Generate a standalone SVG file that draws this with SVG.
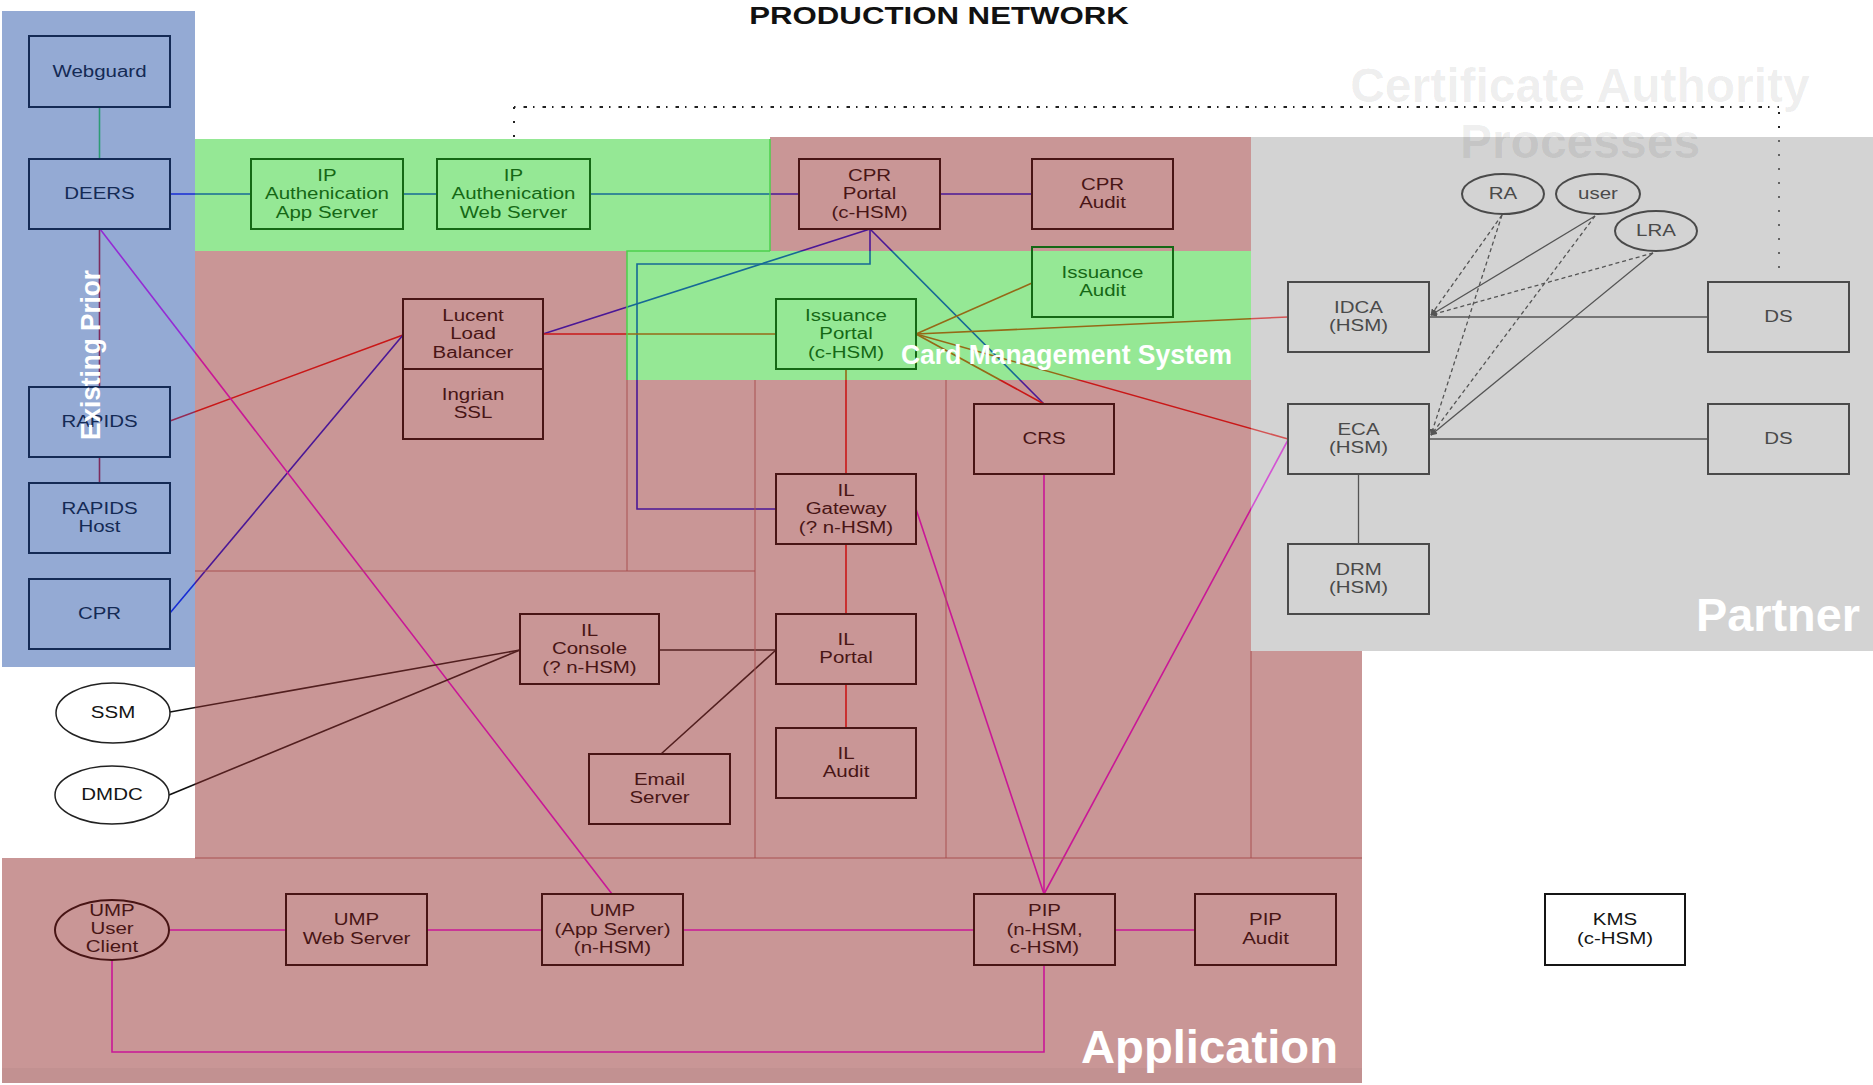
<svg xmlns="http://www.w3.org/2000/svg" width="1873" height="1085" viewBox="0 0 1873 1085">
<defs>
<style>
.c{fill:none;stroke-width:1.6}
.cb{stroke:#0000FF}
.cr{stroke:#FF0000}
.cm{stroke:#FF00FF}
.ck{stroke:#111111}
.cg{stroke:#000000;stroke-width:1.3}
.dash{stroke-dasharray:4 3}
.nb{fill:none;stroke-width:2}
.t{font-family:"Liberation Sans",Arial,Helvetica,sans-serif;font-size:16px;text-anchor:middle}
.sb{stroke:#142A55}.fb{fill:#142A55}
.sg{stroke:#156815}.fg{fill:#156815}
.sp{stroke:#481515}.fp{fill:#481515}
.sy{stroke:#4A4A4A}.fy{fill:#4A4A4A}
.sk{stroke:#151515}.fk{fill:#151515}
.lbl{font-family:"Liberation Sans",Arial,Helvetica,sans-serif;font-weight:bold;fill:#FFFFFF}
.div{fill:none;stroke:#A85050;stroke-width:1}
</style>
<marker id="ah" viewBox="0 0 10 10" refX="9" refY="5" markerWidth="5" markerHeight="5" orient="auto"><path d="M0,0 L10,5 L0,10 z" fill="#000"/></marker>
</defs>
<rect x="0" y="0" width="1873" height="1085" fill="#FFFFFF"/>

<g id="frame" fill="none" stroke="#222">
<path d="M514,107 H1779" stroke-width="2" stroke-dasharray="1.5 8 3.5 6"/>
<path d="M514,107 V146" stroke-width="2" stroke-dasharray="2 12"/>
<path d="M1779,112 V268" stroke-width="2" stroke-dasharray="2 12"/>
</g>

<g id="connectors">
<path class="c" stroke="#30E040" stroke-width="2.5" d="M99.5,107 V159"/>
<path class="c cb" d="M170,194 H251"/>
<path class="c cb" d="M403,194 H437"/>
<path class="c cb" d="M590,194 H799"/>
<path class="c cb" d="M940,194 H1032"/>
<path class="c cb" d="M870,229 L543,334"/>
<path class="c cb" d="M870,229 V264 H637 V509 H776"/>
<path class="c cb" d="M870,229 L1044,404"/>
<path class="c cr" d="M403,335 L170,421"/>
<path class="c cb" d="M403,335 L170,613"/>
<path class="c cr" d="M543,334 H776"/>
<path class="c" stroke="#D00010" stroke-width="2" d="M99.5,229 V387"/>
<path class="c" stroke="#D00010" stroke-width="2" d="M99.5,457 V483"/>
<path class="c cm" d="M100,229 L612,894"/>
<path class="c ck" d="M520,650 L170,712"/>
<path class="c ck" d="M520,650 L169,795"/>
<path class="c ck" d="M659,650 H776"/>
<path class="c ck" d="M776,650 L661,754"/>
<path class="c cr" stroke-width="2" d="M846,369 V474"/>
<path class="c cr" stroke-width="2" d="M846,544 V614"/>
<path class="c cr" stroke-width="2" d="M846,684 V728"/>
<path class="c cr" d="M916,334 L1032,283"/>
<path class="c cr" d="M916,334 L1288,317"/>
<path class="c cr" d="M916,334 L1044,404"/>
<path class="c cr" d="M916,334 L1288,439"/>
<path class="c cm" d="M916,509 L1044,894"/>
<path class="c cm" stroke-width="2" d="M1044,474 V894"/>
<path class="c cm" d="M1288,440 L1044,894"/>
<path class="c cm" stroke-width="2" d="M169,930 H286"/>
<path class="c cm" stroke-width="2" d="M427,930 H542"/>
<path class="c cm" stroke-width="2" d="M683,930 H974"/>
<path class="c cm" stroke-width="2" d="M1115,930 H1195"/>
<path class="c cm" stroke-width="2" d="M112,960 V1052 H1044 V965"/>
<path class="c cg" stroke-width="2" d="M1429,317 H1708"/>
<path class="c cg" stroke-width="2" d="M1429,439 H1708"/>
<path class="c cg" stroke-width="2" d="M1358.5,474 V544"/>
<path class="c cg dash" marker-end="url(#ah)" d="M1502,215 L1431,315"/>
<path class="c cg" stroke-width="1" marker-end="url(#ah)" d="M1595,216 L1431,315"/>
<path class="c cg dash" marker-end="url(#ah)" d="M1653,253 L1431,315"/>
<path class="c cg dash" marker-end="url(#ah)" d="M1502,215 L1431,435"/>
<path class="c cg dash" marker-end="url(#ah)" d="M1595,216 L1431,435"/>
<path class="c cg" stroke-width="1" marker-end="url(#ah)" d="M1653,253 L1431,435"/>
</g>

<g id="regions">
<rect x="2" y="11" width="193" height="656" fill="#2955A9" fill-opacity="0.5"/>
<path fill="#932D2D" fill-opacity="0.5" d="M770,137 H1251 V251 H770 Z M195,251 H627 V380 H1251 V651 H1362 V1083 H2 V858 H195 Z"/>
<rect x="195" y="139" width="575" height="112" fill="#2BD12B" fill-opacity="0.5"/>
<rect x="627" y="251" width="624" height="129" fill="#2BD12B" fill-opacity="0.5"/>
<rect x="1251" y="137" width="622" height="514" fill="#A7A7A7" fill-opacity="0.5"/>
<rect x="2" y="1068" width="1360" height="15" fill="#000" fill-opacity="0.03"/>
<path fill="none" stroke="#4CD04C" stroke-width="1.5" d="M770,139 V251 M627,380 V251 H770"/>
<path class="div" d="M627,380 V571 M195,571 H755 M755,380 V858 M946,380 V858 M1251,651 V858 M195,858 H1362"/>
</g>

<g id="webguard"><rect class="nb sb" x="29" y="36" width="141" height="71"/><text class="t fb" transform="matrix(1.28 0 0 1 99.5 0)"><tspan x="0" y="77">Webguard</tspan></text></g>
<g id="deers"><rect class="nb sb" x="29" y="159" width="141" height="70"/><text class="t fb" transform="matrix(1.28 0 0 1 99.5 0)"><tspan x="0" y="199.5">DEERS</tspan></text></g>
<g id="rapids"><rect class="nb sb" x="29" y="387" width="141" height="70"/><text class="t fb" transform="matrix(1.28 0 0 1 99.5 0)"><tspan x="0" y="427.5">RAPIDS</tspan></text></g>
<g id="rapidshost"><rect class="nb sb" x="29" y="483" width="141" height="70"/><text class="t fb" transform="matrix(1.28 0 0 1 99.5 0)"><tspan x="0" y="514">RAPIDS</tspan><tspan x="0" y="532.5">Host</tspan></text></g>
<g id="cpr"><rect class="nb sb" x="29" y="579" width="141" height="70"/><text class="t fb" transform="matrix(1.28 0 0 1 99.5 0)"><tspan x="0" y="619.5">CPR</tspan></text></g>

<g id="ssm"><ellipse cx="113" cy="713" rx="57" ry="30" fill="#FFFFFF" stroke="#222" stroke-width="1.5"/><text class="t fk" transform="matrix(1.28 0 0 1 113 0)"><tspan x="0" y="718.5">SSM</tspan></text></g>
<g id="dmdc"><ellipse cx="112" cy="795" rx="57" ry="29" fill="#FFFFFF" stroke="#222" stroke-width="1.5"/><text class="t fk" transform="matrix(1.28 0 0 1 112 0)"><tspan x="0" y="800.5">DMDC</tspan></text></g>

<g id="ipapp"><rect class="nb sg" x="251" y="159" width="152" height="70"/><text class="t fg" transform="matrix(1.28 0 0 1 327 0)"><tspan x="0" y="181">IP</tspan><tspan x="0" y="199.5">Authenication</tspan><tspan x="0" y="218">App Server</tspan></text></g>
<g id="ipweb"><rect class="nb sg" x="437" y="159" width="153" height="70"/><text class="t fg" transform="matrix(1.28 0 0 1 513.5 0)"><tspan x="0" y="181">IP</tspan><tspan x="0" y="199.5">Authenication</tspan><tspan x="0" y="218">Web Server</tspan></text></g>

<g id="cprportal"><rect class="nb sp" x="799" y="159" width="141" height="70"/><text class="t fp" transform="matrix(1.28 0 0 1 869.5 0)"><tspan x="0" y="181">CPR</tspan><tspan x="0" y="199.5">Portal</tspan><tspan x="0" y="218">(c-HSM)</tspan></text></g>
<g id="cpraudit"><rect class="nb sp" x="1032" y="159" width="141" height="70"/><text class="t fp" transform="matrix(1.28 0 0 1 1102.5 0)"><tspan x="0" y="190">CPR</tspan><tspan x="0" y="208.5">Audit</tspan></text></g>
<g id="issaudit"><rect class="nb sg" x="1032" y="247" width="141" height="70"/><text class="t fg" transform="matrix(1.28 0 0 1 1102.5 0)"><tspan x="0" y="278">Issuance</tspan><tspan x="0" y="296.5">Audit</tspan></text></g>
<g id="issportal"><rect class="nb sg" x="776" y="299" width="140" height="70"/><text class="t fg" transform="matrix(1.28 0 0 1 846 0)"><tspan x="0" y="321">Issuance</tspan><tspan x="0" y="339.5">Portal</tspan><tspan x="0" y="358">(c-HSM)</tspan></text></g>

<g id="lucent"><rect class="nb sp" x="403" y="299" width="140" height="140"/><path class="nb sp" d="M403,369 H543"/><text class="t fp" transform="matrix(1.28 0 0 1 473 0)"><tspan x="0" y="321">Lucent</tspan><tspan x="0" y="339.5">Load</tspan><tspan x="0" y="358">Balancer</tspan><tspan x="0" y="400">Ingrian</tspan><tspan x="0" y="418.5">SSL</tspan></text></g>
<g id="ilconsole"><rect class="nb sp" x="520" y="614" width="139" height="70"/><text class="t fp" transform="matrix(1.28 0 0 1 589.5 0)"><tspan x="0" y="636">IL</tspan><tspan x="0" y="654.5">Console</tspan><tspan x="0" y="673">(? n-HSM)</tspan></text></g>
<g id="ilgateway"><rect class="nb sp" x="776" y="474" width="140" height="70"/><text class="t fp" transform="matrix(1.28 0 0 1 846 0)"><tspan x="0" y="496">IL</tspan><tspan x="0" y="514.5">Gateway</tspan><tspan x="0" y="533">(? n-HSM)</tspan></text></g>
<g id="ilportal"><rect class="nb sp" x="776" y="614" width="140" height="70"/><text class="t fp" transform="matrix(1.28 0 0 1 846 0)"><tspan x="0" y="645">IL</tspan><tspan x="0" y="663.5">Portal</tspan></text></g>
<g id="ilaudit"><rect class="nb sp" x="776" y="728" width="140" height="70"/><text class="t fp" transform="matrix(1.28 0 0 1 846 0)"><tspan x="0" y="759">IL</tspan><tspan x="0" y="777.5">Audit</tspan></text></g>
<g id="crs"><rect class="nb sp" x="974" y="404" width="140" height="70"/><text class="t fp" transform="matrix(1.28 0 0 1 1044 0)"><tspan x="0" y="444.5">CRS</tspan></text></g>
<g id="email"><rect class="nb sp" x="589" y="754" width="141" height="70"/><text class="t fp" transform="matrix(1.28 0 0 1 659.5 0)"><tspan x="0" y="785">Email</tspan><tspan x="0" y="803.5">Server</tspan></text></g>

<g id="umpclient"><ellipse class="nb sp" cx="112" cy="930" rx="57" ry="30" stroke-width="1.5"/><text class="t fp" transform="matrix(1.28 0 0 1 112 0)"><tspan x="0" y="916">UMP</tspan><tspan x="0" y="934">User</tspan><tspan x="0" y="952">Client</tspan></text></g>
<g id="umpweb"><rect class="nb sp" x="286" y="894" width="141" height="71"/><text class="t fp" transform="matrix(1.28 0 0 1 356.5 0)"><tspan x="0" y="925.5">UMP</tspan><tspan x="0" y="944">Web Server</tspan></text></g>
<g id="umpapp"><rect class="nb sp" x="542" y="894" width="141" height="71"/><text class="t fp" transform="matrix(1.28 0 0 1 612.5 0)"><tspan x="0" y="916.5">UMP</tspan><tspan x="0" y="935">(App Server)</tspan><tspan x="0" y="953.5">(n-HSM)</tspan></text></g>
<g id="pip"><rect class="nb sp" x="974" y="894" width="141" height="71"/><text class="t fp" transform="matrix(1.28 0 0 1 1044.5 0)"><tspan x="0" y="916.5">PIP</tspan><tspan x="0" y="935">(n-HSM,</tspan><tspan x="0" y="953.5">c-HSM)</tspan></text></g>
<g id="pipaudit"><rect class="nb sp" x="1195" y="894" width="141" height="71"/><text class="t fp" transform="matrix(1.28 0 0 1 1265.5 0)"><tspan x="0" y="925.5">PIP</tspan><tspan x="0" y="944">Audit</tspan></text></g>
<g id="kms"><rect x="1545" y="894" width="140" height="71" fill="#FFFFFF" stroke="#151515" stroke-width="2"/><text class="t fk" transform="matrix(1.28 0 0 1 1615 0)"><tspan x="0" y="925.5">KMS</tspan><tspan x="0" y="944">(c-HSM)</tspan></text></g>

<g id="idca"><rect class="nb sy" x="1288" y="282" width="141" height="70"/><text class="t fy" transform="matrix(1.28 0 0 1 1358.5 0)"><tspan x="0" y="313">IDCA</tspan><tspan x="0" y="331.5">(HSM)</tspan></text></g>
<g id="ds1"><rect class="nb sy" x="1708" y="282" width="141" height="70"/><text class="t fy" transform="matrix(1.28 0 0 1 1778.5 0)"><tspan x="0" y="322.5">DS</tspan></text></g>
<g id="eca"><rect class="nb sy" x="1288" y="404" width="141" height="70"/><text class="t fy" transform="matrix(1.28 0 0 1 1358.5 0)"><tspan x="0" y="435">ECA</tspan><tspan x="0" y="453.5">(HSM)</tspan></text></g>
<g id="ds2"><rect class="nb sy" x="1708" y="404" width="141" height="70"/><text class="t fy" transform="matrix(1.28 0 0 1 1778.5 0)"><tspan x="0" y="444.5">DS</tspan></text></g>
<g id="drm"><rect class="nb sy" x="1288" y="544" width="141" height="70"/><text class="t fy" transform="matrix(1.28 0 0 1 1358.5 0)"><tspan x="0" y="575">DRM</tspan><tspan x="0" y="593.5">(HSM)</tspan></text></g>
<g id="ra"><ellipse class="nb sy" cx="1503" cy="194" rx="41" ry="20" stroke-width="1.5"/><text class="t fy" transform="matrix(1.28 0 0 1 1503 0)"><tspan x="0" y="199.5">RA</tspan></text></g>
<g id="user"><ellipse class="nb sy" cx="1598" cy="194" rx="42" ry="20" stroke-width="1.5"/><text class="t fy" transform="matrix(1.28 0 0 1 1598 0)"><tspan x="0" y="199.5">user</tspan></text></g>
<g id="lra"><ellipse class="nb sy" cx="1656" cy="231" rx="41" ry="20" stroke-width="1.5"/><text class="t fy" transform="matrix(1.28 0 0 1 1656 0)"><tspan x="0" y="236.5">LRA</tspan></text></g>

<g id="labels">
<text transform="matrix(1.3 0 0 1 939 0)" x="0" y="24" font-family="Liberation Sans, Arial, sans-serif" font-weight="bold" font-size="24" text-anchor="middle" fill="#111">PRODUCTION NETWORK</text>
<text x="1580" y="102" font-family="Liberation Sans, Arial, sans-serif" font-weight="bold" font-size="48" text-anchor="middle" fill="#000" fill-opacity="0.07">Certificate Authority</text>
<text x="1580" y="158" font-family="Liberation Sans, Arial, sans-serif" font-weight="bold" font-size="48" text-anchor="middle" fill="#000" fill-opacity="0.07">Processes</text>
<text class="lbl" transform="translate(100,440) rotate(-90)" x="0" y="0" font-size="27" textLength="170" lengthAdjust="spacingAndGlyphs">Existing Prior</text>
<text class="lbl" x="901" y="364" font-size="28" textLength="331" lengthAdjust="spacingAndGlyphs">Card Management System</text>
<text class="lbl" x="1696" y="631" font-size="47" textLength="164" lengthAdjust="spacingAndGlyphs">Partner</text>
<text class="lbl" x="1081" y="1063" font-size="47" textLength="257" lengthAdjust="spacingAndGlyphs">Application</text>
</g>
</svg>
